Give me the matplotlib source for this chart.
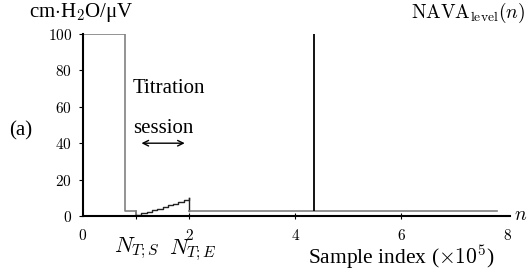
import matplotlib
matplotlib.use("Agg")
import matplotlib.pyplot as plt

plt.rcParams['font.family'] = ['Liberation Serif', 'DejaVu Serif']
plt.rcParams['mathtext.fontset'] = 'cm'

# NAVA level before the titration session (gray, step)
pre_x = [0.0, 0.8, 1.0]
pre_y = [100, 3, 0]
# titration ramp (staircase)
ramp_x = [1.0, 1.1, 1.2, 1.3, 1.4, 1.5, 1.6, 1.7, 1.8, 1.9, 2.0]
ramp_y = [0.5, 1.4, 2.3, 3.2, 4.1, 5.0, 5.9, 6.8, 7.7, 8.6, 10.0]
# level after titration
post_x = [2.0, 7.8]
post_y = [2.5, 2.5]
# single spike
spike_x = 4.35
spike_y = 100

xticks = [0, 2, 4, 6, 8]
yticks = [0, 20, 40, 60, 80, 100]

fig = plt.figure(figsize=(5.3, 2.75), dpi=100)
ax = fig.add_axes([83/530, 59/275, 427/530, 182/275])

gray = '#808080'
ax.plot(pre_x, pre_y, drawstyle='steps-post', color=gray, lw=1.2)
ax.plot([pre_x[-1], pre_x[-1]], [pre_y[-2], 0], color=gray, lw=1.2)
ax.plot(ramp_x, ramp_y, drawstyle='steps-post', color='#222222', lw=1.0)
ax.plot([ramp_x[-1], ramp_x[-1]], [ramp_y[-1], post_y[0]], color='#222222', lw=1.0)
ax.plot(post_x, post_y, color=gray, lw=1.2)
ax.vlines(spike_x, post_y[0], spike_y, color='black', lw=1.3)

ax.set_xlim(0, 8.05)
ax.set_ylim(0, 100)
ax.spines['top'].set_visible(False)
ax.spines['right'].set_visible(False)
ax.spines['left'].set_linewidth(1.5)
ax.spines['bottom'].set_linewidth(1.5)
ax.spines['left'].set_bounds(0, 100)

ax.set_yticks(yticks)
ax.set_yticklabels([f'${v}$' for v in yticks], fontsize=11)
ax.set_xticks([1, 2, 4, 6])
ax.set_xticklabels([])
ax.tick_params(axis='y', direction='out', length=3, width=0.8, pad=5)
ax.tick_params(axis='x', direction='inout', length=5, width=0.8)

for v in xticks:
    ax.text(v, -6.5, f'${v}$', ha='center', va='top', fontsize=11)

ax.text(1.02, -11, r'$N_{T;S}$', ha='center', va='top', fontsize=16)
ax.text(2.07, -12, r'$N_{T;E}$', ha='center', va='top', fontsize=16)
ax.text(8.25, 0, r'$n$', ha='center', va='center', fontsize=14)
ax.text(6.0, -14.5, r'Sample index ($\times10^5$)', ha='center', va='top', fontsize=15.5)

ax.text(0.94, 70, 'Titration', ha='left', va='center', fontsize=15)
ax.text(0.94, 48, 'session', ha='left', va='center', fontsize=15)
ax.annotate('', xy=(1.05, 40), xytext=(1.97, 40),
            arrowprops=dict(arrowstyle='<->', color='black', lw=1.0))

ax.text(-1.18, 47, '(a)', ha='center', va='center', fontsize=15)
fig.text(29/530, 1 - 13/275, r'cm$\cdot$H$_2$O/μV', ha='left', va='center', fontsize=15)
fig.text(525/530, 1 - 13/275, r'$\mathrm{NAVA}_{\mathrm{level}}(n)$', ha='right', va='center', fontsize=14)

fig.savefig('out.png', dpi=100)
